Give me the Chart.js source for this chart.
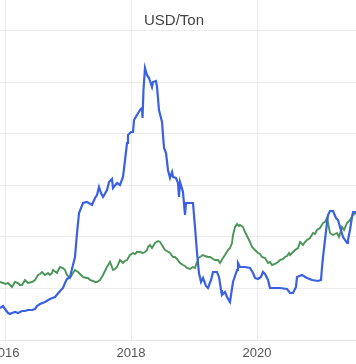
<!DOCTYPE html>
<html>
<head>
<meta charset="utf-8">
<script src="https://cdn.jsdelivr.net/npm/chart.js@4/dist/chart.umd.min.js"></script>
<style>
  html, body { margin: 0; padding: 0; background: #fff; overflow: hidden; width: 356px; height: 364px; }
  #wrap { position: absolute; left: -60px; top: -40px; width: 475px; height: 404px; }
</style>
</head>
<body>
<div id="wrap"><canvas id="c"></canvas></div>
<script>
// Title / unit
const chartTitle = 'USD/Ton';

// X tick labels (years)
const xTickYears = [2016, 2018, 2020, 2022];

// Blue series (decimal year, thousand USD/Ton)
const blueYears = [2015.921,2015.968,2016.000,2016.048,2016.079,2016.111,2016.159,2016.206,2016.270,2016.317,2016.365,2016.429,2016.476,2016.508,2016.556,2016.635,2016.714,2016.794,2016.873,2016.921,2016.952,2016.984,2017.032,2017.063,2017.111,2017.143,2017.175,2017.238,2017.302,2017.381,2017.429,2017.460,2017.492,2017.524,2017.556,2017.619,2017.651,2017.698,2017.714,2017.778,2017.825,2017.873,2017.905,2017.937,2017.952,2018.000,2018.032,2018.048,2018.095,2018.143,2018.175,2018.183,2018.198,2018.222,2018.254,2018.286,2018.333,2018.349,2018.397,2018.413,2018.444,2018.492,2018.524,2018.556,2018.587,2018.619,2018.651,2018.667,2018.714,2018.746,2018.762,2018.778,2018.825,2018.857,2018.873,2018.984,2019.016,2019.048,2019.079,2019.111,2019.143,2019.190,2019.222,2019.270,2019.302,2019.365,2019.397,2019.429,2019.444,2019.492,2019.524,2019.571,2019.619,2019.683,2019.698,2019.730,2019.810,2019.889,2019.937,2019.968,2020.016,2020.063,2020.095,2020.127,2020.175,2020.206,2020.365,2020.476,2020.524,2020.571,2020.619,2020.635,2020.714,2020.794,2020.873,2020.968,2021.016,2021.032,2021.048,2021.079,2021.111,2021.127,2021.159,2021.206,2021.254,2021.286,2021.317,2021.365,2021.429,2021.444,2021.476,2021.508,2021.524,2021.571];
const blueValues = [6.21,6.60,6.02,5.24,5.05,5.24,5.44,5.24,5.63,5.63,5.83,5.83,6.02,6.60,6.99,7.38,7.96,8.35,9.51,10.10,11.07,11.84,12.23,13.79,16.12,20.78,24.66,26.60,26.80,26.21,27.57,28.16,29.71,28.54,27.77,29.13,30.68,31.26,29.51,30.49,30.10,31.65,34.95,38.25,39.81,40.39,40.39,42.72,43.69,44.66,45.05,43.11,48.54,52.82,51.46,50.87,49.13,50.10,50.29,49.13,44.66,42.33,37.28,36.31,33.01,31.46,32.62,31.65,31.46,30.49,27.77,30.68,28.74,24.27,26.60,26.60,21.94,16.89,13.01,11.26,12.04,10.49,10.10,11.65,13.20,13.20,12.23,9.71,8.74,9.32,8.35,7.38,11.26,13.59,14.95,14.17,14.17,13.98,13.01,12.04,11.84,12.23,13.20,12.82,11.65,10.10,10.10,9.90,9.13,9.13,10.29,12.23,12.62,12.04,11.65,11.46,11.65,14.17,16.12,19.42,22.72,24.27,25.05,25.05,23.69,23.30,21.94,20.00,18.83,19.42,21.36,23.88,24.85,24.85];

// Green series (decimal year, thousand USD/Ton)
const greenYears = [2015.921,2015.968,2016.016,2016.048,2016.079,2016.111,2016.159,2016.206,2016.238,2016.270,2016.317,2016.365,2016.429,2016.476,2016.524,2016.556,2016.587,2016.635,2016.683,2016.714,2016.746,2016.762,2016.825,2016.873,2016.921,2016.952,2016.984,2017.032,2017.079,2017.111,2017.159,2017.190,2017.238,2017.286,2017.317,2017.349,2017.397,2017.429,2017.460,2017.508,2017.556,2017.587,2017.619,2017.667,2017.698,2017.714,2017.746,2017.778,2017.825,2017.857,2017.873,2017.905,2017.937,2017.984,2018.032,2018.063,2018.095,2018.143,2018.190,2018.222,2018.254,2018.270,2018.302,2018.333,2018.381,2018.429,2018.460,2018.492,2018.540,2018.571,2018.619,2018.667,2018.698,2018.730,2018.778,2018.825,2018.857,2018.889,2018.937,2018.984,2019.016,2019.048,2019.063,2019.095,2019.143,2019.175,2019.222,2019.254,2019.302,2019.333,2019.381,2019.413,2019.460,2019.492,2019.540,2019.571,2019.603,2019.619,2019.651,2019.683,2019.714,2019.730,2019.778,2019.810,2019.857,2019.889,2019.921,2019.968,2020.016,2020.048,2020.079,2020.127,2020.175,2020.206,2020.238,2020.286,2020.333,2020.365,2020.413,2020.444,2020.476,2020.508,2020.524,2020.571,2020.603,2020.651,2020.683,2020.730,2020.762,2020.794,2020.841,2020.889,2020.921,2020.952,2021.000,2021.048,2021.079,2021.111,2021.159,2021.206,2021.238,2021.270,2021.302,2021.349,2021.381,2021.429,2021.476,2021.524,2021.571];
const greenValues = [11.26,11.07,10.87,11.07,10.68,10.29,11.26,11.07,10.68,10.68,11.65,11.07,11.26,11.65,12.62,12.82,13.20,12.62,13.01,12.62,13.01,13.59,13.01,14.17,13.98,13.59,12.62,12.04,13.01,13.59,13.20,12.82,12.23,12.04,12.04,11.65,11.46,11.26,11.26,11.65,12.62,13.40,14.17,15.15,14.17,13.59,13.79,14.17,15.53,15.15,14.95,15.34,15.53,16.50,16.89,16.70,17.09,17.09,16.89,17.09,17.48,18.06,18.45,17.86,18.83,19.22,19.03,18.45,17.48,17.28,16.89,16.12,16.12,15.73,14.95,14.56,14.37,13.98,13.79,14.17,13.98,15.15,15.92,16.12,16.50,16.31,16.12,16.12,15.73,15.53,15.53,14.95,15.92,16.50,17.48,17.86,18.83,20.39,21.94,22.52,22.14,22.33,21.94,20.97,19.81,19.03,18.06,17.48,16.89,16.70,16.12,15.92,14.95,15.15,14.56,14.76,15.15,15.53,15.73,16.12,16.31,16.89,16.50,17.09,17.48,17.86,19.03,18.45,19.03,19.42,19.81,20.78,20.58,21.36,21.75,22.72,22.91,23.69,20.78,20.39,20.58,20.78,20.00,21.94,21.36,22.72,23.30,24.27,24.66];

const toPoints = (xs, ys) => xs.map((x, i) => ({ x: x, y: ys[i] }));

const titlePlugin = {
  id: 'insideTitle',
  afterDraw(chart) {
    const ctx = chart.ctx;
    ctx.save();
    ctx.font = '15px "Liberation Sans", Arial, sans-serif';
    ctx.fillStyle = '#444';
    ctx.textAlign = 'center';
    ctx.textBaseline = 'middle';
    ctx.fillText(chartTitle, 234, 61);
    ctx.restore();
  }
};

new Chart(document.getElementById('c'), {
  type: 'line',
  data: {
    datasets: [
      {
        label: 'Blue',
        data: toPoints(blueYears, blueValues),
        borderColor: '#3a60e4',
        borderWidth: 2.2,
        pointRadius: 0,
        tension: 0,
        fill: false
      },
      {
        label: 'Green',
        data: toPoints(greenYears, greenValues),
        borderColor: '#4a9559',
        borderWidth: 1.9,
        pointRadius: 0,
        tension: 0,
        fill: false
      }
    ]
  },
  options: {
    responsive: true,
    maintainAspectRatio: false,
    animation: false,
    layout: { padding: 0 },
    plugins: {
      legend: { display: false },
      title: { display: false },
      tooltip: { enabled: false }
    },
    scales: {
      x: {
        type: 'linear',
        min: 2015.9206,
        max: 2022.5079,
        grid: { color: '#ececec', lineWidth: 1, drawTicks: false },
        border: { display: true, color: '#e6e6e6' },
        ticks: {
          stepSize: 2,
          includeBounds: false,
          padding: 6,
          color: '#555',
          font: { size: 13, family: '"Liberation Sans", Arial, sans-serif' },
          maxRotation: 0,
          callback: (v) => xTickYears.includes(v) ? String(v) : ''
        },
        afterFit: (s) => { s.height = 24; }
      },
      y: {
        min: 0,
        max: 73.786,
        grid: { color: '#ececec', lineWidth: 1, drawTicks: false },
        border: { display: false },
        ticks: { stepSize: 10, includeBounds: false, display: false },
        afterFit: (s) => { s.width = 60; }
      }
    }
  },
  plugins: [titlePlugin]
});
</script>
</body>
</html>
